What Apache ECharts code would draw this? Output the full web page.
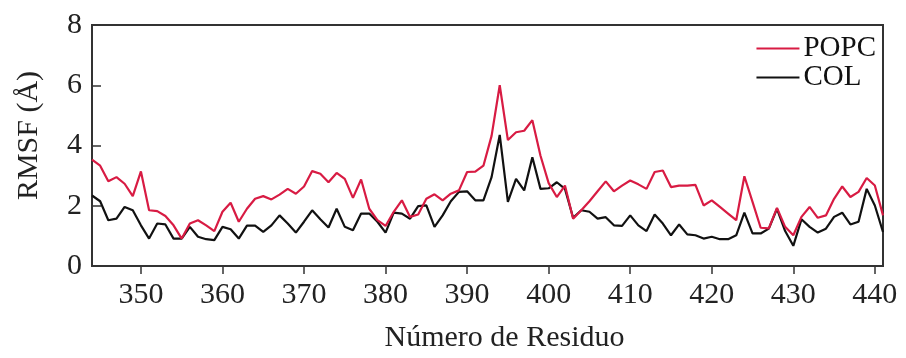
<!DOCTYPE html>
<html>
<head>
<meta charset="utf-8">
<script src="https://cdn.jsdelivr.net/npm/echarts@6/dist/echarts.min.js"></script>
<style>
  html, body { margin: 0; padding: 0; background: #fff; }
  #chart { width: 906px; height: 358px; }
</style>
</head>
<body>
<div id="chart"></div>
<script>
// Residue range and RMSF profiles (Å) for the two membrane systems
const residueStart = 344;
const residueEnd = 441;

const popc = [
  3.53, 3.33, 2.81, 2.95, 2.73, 2.32, 3.14, 1.85, 1.82, 1.66,
  1.35, 0.91, 1.41, 1.52, 1.35, 1.16, 1.80, 2.10, 1.47, 1.90,
  2.23, 2.32, 2.21, 2.37, 2.56, 2.40, 2.64, 3.15, 3.06, 2.78,
  3.09, 2.89, 2.26, 2.87, 1.90, 1.52, 1.33, 1.80, 2.18, 1.63,
  1.71, 2.23, 2.38, 2.18, 2.40, 2.51, 3.12, 3.13, 3.33, 4.32,
  6.00, 4.18, 4.44, 4.49, 4.84, 3.66, 2.75, 2.29, 2.67, 1.57,
  1.85, 2.15, 2.48, 2.81, 2.48, 2.67, 2.84, 2.71, 2.56, 3.12,
  3.17, 2.62, 2.67, 2.67, 2.69, 2.01, 2.18, 1.96, 1.74, 1.52,
  2.98, 2.13, 1.27, 1.25, 1.93, 1.30, 1.02, 1.63, 1.96, 1.60,
  1.68, 2.23, 2.64, 2.29, 2.46, 2.92, 2.67, 1.68
];

const col = [
  2.34, 2.15, 1.52, 1.57, 1.96, 1.85, 1.35, 0.91, 1.41, 1.38,
  0.91, 0.91, 1.30, 0.97, 0.89, 0.86, 1.30, 1.22, 0.91, 1.34,
  1.34, 1.13, 1.35, 1.68, 1.41, 1.11, 1.47, 1.85, 1.55, 1.28,
  1.90, 1.30, 1.19, 1.74, 1.74, 1.47, 1.11, 1.77, 1.74, 1.57,
  1.99, 2.01, 1.30, 1.68, 2.15, 2.46, 2.48, 2.18, 2.18, 2.95,
  4.35, 2.13, 2.89, 2.51, 3.61, 2.56, 2.58, 2.78, 2.56, 1.60,
  1.85, 1.80, 1.57, 1.62, 1.35, 1.33, 1.68, 1.35, 1.16, 1.71,
  1.41, 1.02, 1.38, 1.05, 1.02, 0.91, 0.97, 0.89, 0.89, 1.02,
  1.77, 1.08, 1.08, 1.24, 1.90, 1.16, 0.67, 1.55, 1.30, 1.11,
  1.24, 1.63, 1.77, 1.38, 1.47, 2.56, 2.01, 1.13
];

const xTicks = [350, 360, 370, 380, 390, 400, 410, 420, 430, 440];
const yTicks = [0, 2, 4, 6, 8];

const residues = popc.map((_, i) => residueStart + i);
const pairs = (vals) => vals.map((v, i) => [residues[i], v]);

const serif = '"Liberation Serif", "DejaVu Serif", serif';
const chart = echarts.init(document.getElementById('chart'), null, { renderer: 'canvas' });

chart.setOption({
  animation: false,
  backgroundColor: '#fff',
  textStyle: { fontFamily: serif },
  grid: {
    left: 92, right: 23, top: 25, bottom: 91,
    show: true, borderColor: '#333', borderWidth: 2, backgroundColor: 'transparent'
  },
  legend: {
    orient: 'vertical',
    right: 30, top: 34,
    padding: 0,
    itemGap: 0,
    itemWidth: 43, itemHeight: 2,
    icon: 'rect',
    data: ['POPC', 'COL'],
    textStyle: { fontFamily: serif, fontSize: 29, color: '#111', lineHeight: 26, padding: [0, 0, 0, -1] }
  },
  xAxis: {
    type: 'value',
    min: residueStart, max: residueEnd,
    name: 'Número de Residuo',
    nameLocation: 'middle',
    nameGap: 57,
    nameTextStyle: { fontFamily: serif, fontSize: 30, color: '#222', padding: [0, 0, 0, 34] },
    axisLine: { show: false },
    axisTick: { show: true, customValues: xTicks, length: 8, lineStyle: { color: '#333', width: 1.5 } },
    axisLabel: { customValues: xTicks, fontFamily: serif, fontSize: 30, color: '#222', margin: 14 },
    splitLine: { show: false }
  },
  yAxis: {
    type: 'value',
    min: 0, max: 8, interval: 2,
    name: 'RMSF (Å)',
    nameLocation: 'middle',
    nameGap: 48,
    nameTextStyle: { fontFamily: serif, fontSize: 30, color: '#222', padding: [0, 0, 0, 20] },
    axisLine: { show: false },
    axisTick: { show: true, inside: true, length: 9, lineStyle: { color: '#333', width: 1.5 } },
    axisLabel: {
      fontFamily: serif, fontSize: 30, color: '#222', margin: 10,
      formatter: (v) => (yTicks.includes(v) ? String(v) : '')
    },
    splitLine: { show: false }
  },
  series: [
    {
      name: 'COL', type: 'line', data: pairs(col),
      showSymbol: false, symbol: 'none',
      lineStyle: { color: '#111', width: 2.2 }, itemStyle: { color: '#111' },
      z: 2
    },
    {
      name: 'POPC', type: 'line', data: pairs(popc),
      showSymbol: false, symbol: 'none',
      lineStyle: { color: '#d81b43', width: 2.2 }, itemStyle: { color: '#d81b43' },
      z: 3
    }
  ]
});
</script>
</body>
</html>
